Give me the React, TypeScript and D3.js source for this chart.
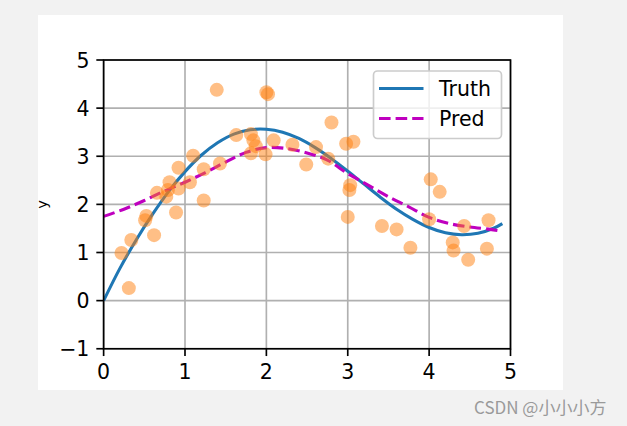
import React from "react";
import * as d3 from "d3";

// Training samples (x, y)
const sampleX = [0.22, 0.31, 0.34, 0.525, 0.51, 0.62, 0.655, 0.77, 0.81, 0.92, 0.89, 0.92, 1.06, 1.10, 1.23, 1.23, 1.43, 1.39, 1.63, 1.81, 1.84, 1.87, 1.81, 1.99, 2.0, 2.02, 2.09, 2.32, 2.49, 2.61, 2.76, 2.80, 2.98, 3.07, 3.03, 3.02, 3.0, 3.42, 3.60, 3.77, 4.02, 4.13, 4.0, 4.29, 4.30, 4.48, 4.43, 4.73, 4.71, 0.79];
const sampleY = [0.99, 0.26, 1.26, 1.76, 1.67, 1.36, 2.24, 2.16, 2.46, 2.33, 1.83, 2.76, 2.46, 3.01, 2.08, 2.73, 2.85, 4.38, 3.44, 3.46, 3.33, 3.21, 3.06, 3.04, 4.33, 4.29, 3.33, 3.24, 2.83, 3.19, 2.95, 3.70, 3.26, 3.30, 2.40, 2.30, 1.74, 1.55, 1.48, 1.10, 2.52, 2.26, 1.69, 1.21, 1.04, 0.85, 1.55, 1.67, 1.08, 2.30];

// Truth curve samples
const truthX = [0, 0.2, 0.4, 0.6, 0.8, 1.0, 1.2, 1.4, 1.6, 1.8, 2.0, 2.2, 2.4, 2.6, 2.8, 3.0, 3.2, 3.4, 3.6, 3.8, 4.0, 4.2, 4.4, 4.6, 4.8, 4.9];
const truthY = [0, 0.67, 1.26, 1.79, 2.27, 2.68, 3.02, 3.28, 3.46, 3.55, 3.56, 3.50, 3.37, 3.18, 2.95, 2.69, 2.42, 2.15, 1.90, 1.69, 1.52, 1.41, 1.37, 1.40, 1.51, 1.60];

// Prediction curve samples
const predX = [0, 0.25, 0.5, 0.75, 1.0, 1.25, 1.5, 1.75, 2.0, 2.25, 2.5, 2.75, 3.0, 3.25, 3.5, 3.75, 4.0, 4.25, 4.5, 4.75, 4.9];
const predY = [1.75, 1.9, 2.08, 2.28, 2.46, 2.66, 2.88, 3.08, 3.18, 3.16, 3.07, 2.92, 2.64, 2.40, 2.16, 1.95, 1.73, 1.60, 1.53, 1.48, 1.44];

const xTicks = [0, 1, 2, 3, 4, 5];
const yTicks = [-1, 0, 1, 2, 3, 4, 5];
const legendLabels = ["Truth", "Pred"];

export default function App() {
  const W = 627, H = 426;
  const figL = 38, figT = 15, figW = 525, figH = 375;
  const L = figL + 0.125 * figW, R = figL + 0.9 * figW;
  const T = figT + 0.12 * figH, B = figT + 0.89 * figH;
  const x = d3.scaleLinear().domain([0, 5]).range([L, R]);
  const y = d3.scaleLinear().domain([-1, 5]).range([B, T]);
  const font = "DejaVu Sans, sans-serif";
  const fs = 20.5;
  const lw = 3.1;

  const truthLine = d3.line<number>().x((_, i) => x(truthX[i])).y((d) => y(d)).curve(d3.curveCatmullRom)(truthY) || "";
  const predLine = d3.line<number>().x((_, i) => x(predX[i])).y((d) => y(d)).curve(d3.curveCatmullRom)(predY) || "";

  const legL = 373.5, legT = 71, legR = 501.5, legB = 138.5;
  const legRows = [88.5, 118.5];

  return (
    <svg width={W} height={H} style={{ position: "fixed", left: 0, top: 0 }} fontFamily={font}>
      <rect x={0} y={0} width={W} height={H} fill="#f2f2f2" />
      <rect x={figL} y={figT} width={figW} height={figH} fill="#ffffff" />
      <defs>
        <clipPath id="plotclip">
          <rect x={L} y={T} width={R - L} height={B - T} />
        </clipPath>
      </defs>
      {/* grid */}
      {xTicks.map((t) => (
        <line key={"gx" + t} x1={x(t)} x2={x(t)} y1={T} y2={B} stroke="#b0b0b0" strokeWidth={1.67} />
      ))}
      {yTicks.map((t) => (
        <line key={"gy" + t} x1={L} x2={R} y1={y(t)} y2={y(t)} stroke="#b0b0b0" strokeWidth={1.67} />
      ))}
      <g clipPath="url(#plotclip)">
        <path d={truthLine} fill="none" stroke="#1f77b4" strokeWidth={lw} />
        <path d={predLine} fill="none" stroke="#bf00bf" strokeWidth={lw} strokeDasharray="11.6 5" />
        {sampleX.map((sx, i) => (
          <circle key={"p" + i} cx={x(sx)} cy={y(sampleY[i])} r={7} fill="#ff7f0e" fillOpacity={0.5} />
        ))}
      </g>
      {/* spines */}
      <rect x={L} y={T} width={R - L} height={B - T} fill="none" stroke="#000" strokeWidth={1.67} />
      {/* ticks */}
      {xTicks.map((t) => (
        <g key={"tx" + t}>
          <line x1={x(t)} x2={x(t)} y1={B} y2={B + 7.3} stroke="#000" strokeWidth={1.67} />
          <text x={x(t)} y={B + 14.6 + 15.2} textAnchor="middle" fontSize={fs} fill="#000">{t}</text>
        </g>
      ))}
      {yTicks.map((t) => (
        <g key={"ty" + t}>
          <line x1={L - 7.3} x2={L} y1={y(t)} y2={y(t)} stroke="#000" strokeWidth={1.67} />
          <text x={L - 14.2} y={y(t) + 7.5} textAnchor="end" fontSize={fs} fill="#000">{t < 0 ? "\u2212" + Math.abs(t) : t}</text>
        </g>
      ))}
      <text transform={`translate(47,${(T + B) / 2}) rotate(-90)`} textAnchor="middle" fontSize={14.5} fill="#000">y</text>
      {/* legend */}
      <rect x={legL} y={legT} width={legR - legL} height={legB - legT} rx={4} fill="#ffffff" fillOpacity={0.8} stroke="#cccccc" strokeWidth={1.67} />
      <line x1={379} x2={423.5} y1={legRows[0]} y2={legRows[0]} stroke="#1f77b4" strokeWidth={lw} />
      <line x1={379} x2={423.5} y1={legRows[1]} y2={legRows[1]} stroke="#bf00bf" strokeWidth={lw} strokeDasharray="11.6 5" />
      <text x={439} y={legRows[0] + 7.5} fontSize={fs} fill="#000">{legendLabels[0]}</text>
      <text x={439} y={legRows[1] + 7.5} fontSize={fs} fill="#000">{legendLabels[1]}</text>
      {/* watermark */}
      <text x={474} y={414} fontSize={17} fill="#9a9a9a" fontFamily="Noto Sans CJK SC, Noto Sans, sans-serif">CSDN @小小小方</text>
    </svg>
  );
}
